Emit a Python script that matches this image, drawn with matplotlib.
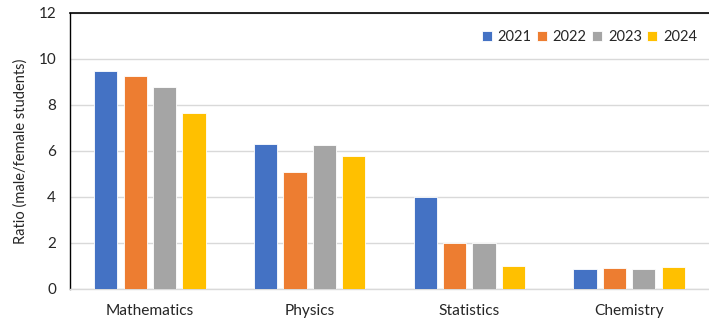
import matplotlib
matplotlib.use("Agg")
import matplotlib.pyplot as plt
import numpy as np

categories = ["Mathematics", "Physics", "Statistics", "Chemistry"]
years = ["2021", "2022", "2023", "2024"]
v2021 = [9.5, 6.3, 4.0, 0.86]
v2022 = [9.25, 5.1, 2.0, 0.93]
v2023 = [8.8, 6.25, 2.0, 0.86]
v2024 = [7.67, 5.77, 1.0, 0.96]
series = [v2021, v2022, v2023, v2024]
colors = ["#4472C4", "#ED7D31", "#A5A5A5", "#FFC000"]

plt.rcParams['font.family'] = ['Lato', 'DejaVu Sans']

fig = plt.figure(figsize=(7.09, 3.19), dpi=100)
ax = fig.add_axes([70/709, 30/319, 639/709, 276/319])

x = np.arange(len(categories))
slot = 0.184
width = 0.145
for i, (vals, c, yr) in enumerate(zip(series, colors, years)):
    ax.bar(x + (i - 1.5) * slot, vals, width, color=c, label=yr,
           edgecolor="white", linewidth=0.6, zorder=3)

ax.set_xlim(-0.5, 3.5)
ax.set_ylim(0, 12)
ax.set_yticks(np.arange(0, 13, 2))
ax.set_xticks(x)
ax.set_xticklabels(categories, fontsize=11.2, color="#262626")
ax.tick_params(axis='y', labelsize=11, colors="#262626", length=0, pad=10)
ax.tick_params(axis='x', length=0, pad=11)
ax.grid(axis='y', color="#D9D9D9", linewidth=1, zorder=0)
ax.set_axisbelow(True)
ax.spines['right'].set_visible(False)
ax.spines['top'].set_color('black')
ax.spines['top'].set_linewidth(1.2)
ax.spines['left'].set_color('black')
ax.spines['left'].set_linewidth(1.0)
ax.spines['bottom'].set_color('#D9D9D9')
ax.spines['bottom'].set_linewidth(1)
ax.set_ylabel("Ratio (male/female students)", fontsize=10.5, color="#262626", labelpad=8)

leg = ax.legend(loc="upper right", bbox_to_anchor=(0.995, 0.97), ncol=4, frameon=False,
                fontsize=10.5, handlelength=0.7, handleheight=0.7, columnspacing=0.35,
                handletextpad=0.4, borderaxespad=0.2)
for t in leg.get_texts():
    t.set_color("#262626")

fig.savefig("out.png", dpi=100)
